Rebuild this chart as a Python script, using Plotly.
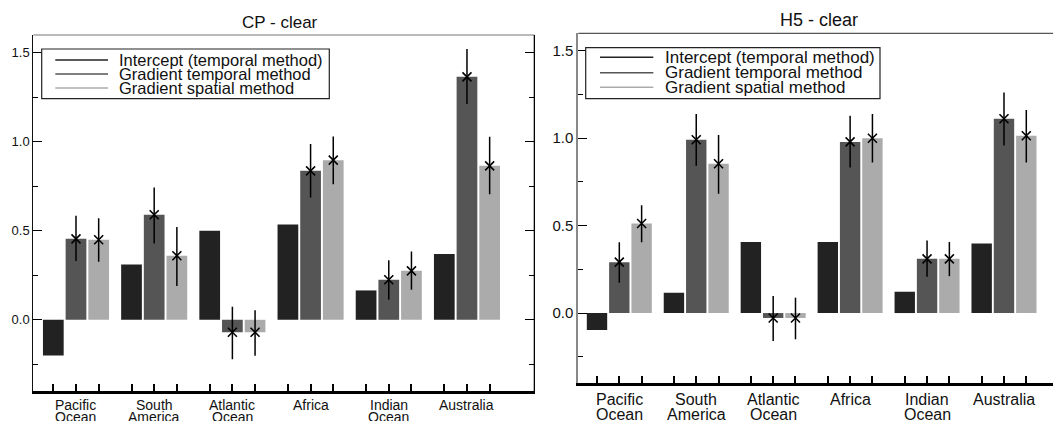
import plotly.graph_objects as go

# The page has an 8px body margin: the figure is drawn at (8, 8) of the window,
# so every reference pixel position is shifted by that margin.
WIN_W, WIN_H = 1061, 421
OFF = 8
W, H = WIN_W - OFF, WIN_H - OFF

# ---------------- data ----------------
categories = ["Pacific Ocean", "South America", "Atlantic Ocean", "Africa", "Indian Ocean", "Australia"]
series_names = ["Intercept (temporal method)", "Gradient temporal method", "Gradient spatial method"]
series_colors = ["#222222", "#555555", "#ababab"]
y_tick_vals = [0.0, 0.5, 1.0, 1.5]
y_tick_text = ["0.0", "0.5", "1.0", "1.5"]
y_minor_vals = [-0.25, 0.25, 0.75, 1.25]

# CP - clear
cp_intercept = [-0.20, 0.31, 0.50, 0.535, 0.165, 0.37]
cp_temporal = [0.455, 0.59, -0.07, 0.837, 0.225, 1.365]
cp_spatial = [0.45, 0.36, -0.07, 0.897, 0.275, 0.865]
cp_temporal_hi = [0.584, 0.743, 0.073, 0.987, 0.335, 1.521]
cp_temporal_lo = [0.331, 0.429, -0.221, 0.687, 0.112, 1.212]
cp_spatial_hi = [0.571, 0.522, 0.054, 1.030, 0.384, 1.028]
cp_spatial_lo = [0.326, 0.190, -0.202, 0.762, 0.169, 0.706]

# H5 - clear
h5_intercept = [-0.097, 0.116, 0.407, 0.407, 0.122, 0.398]
h5_temporal = [0.291, 0.991, -0.028, 0.979, 0.310, 1.111]
h5_spatial = [0.512, 0.854, -0.028, 1.000, 0.310, 1.014]
h5_temporal_hi = [0.405, 1.139, 0.097, 1.128, 0.415, 1.261]
h5_temporal_lo = [0.173, 0.843, -0.160, 0.833, 0.208, 0.958]
h5_spatial_hi = [0.616, 1.019, 0.088, 1.139, 0.407, 1.162]
h5_spatial_lo = [0.405, 0.683, -0.150, 0.861, 0.211, 0.861]

# ---------------- layout helpers ----------------
SLOT = 0.29
BAR_W = 0.265
FONT = "Liberation Sans, Arial, Helvetica, sans-serif"


def px_x(p):
    return (p - OFF) / W


def px_y(p):
    return 1 - (p - OFF) / H


panels = [
    dict(title="CP - clear", title_size=17, title_xy=(280, 22),
         dom=(33.3, 534.3, 35, 391), xrange=[-0.546, 5.861],
         intercept=cp_intercept, temporal=cp_temporal, spatial=cp_spatial,
         t_hi=cp_temporal_hi, t_lo=cp_temporal_lo, s_hi=cp_spatial_hi, s_lo=cp_spatial_lo,
         ytick_size=13, xlab_size=14, xlab_y=(404.5, 416.5),
         leftline="#111111", leftwidth=1, topline="#777777",
         legend_box=(41.7, 49, 329.3, 98.7), legend_line=(55.3, 108), legend_rows=(60, 74, 88),
         legend_text_x=117, legend_size=16.5),
    dict(title="H5 - clear", title_size=18, title_xy=(819, 20),
         dom=(578.3, 1061, 33.3, 383), xrange=[-0.533, 5.741],
         intercept=h5_intercept, temporal=h5_temporal, spatial=h5_spatial,
         t_hi=h5_temporal_hi, t_lo=h5_temporal_lo, s_hi=h5_spatial_hi, s_lo=h5_spatial_lo,
         ytick_size=15, xlab_size=16, xlab_y=(399.5, 414.5),
         leftline="#888888", leftwidth=2, topline="#555555",
         legend_box=(585.7, 47.7, 880, 98.7), legend_line=(600, 653.3), legend_rows=(57.3, 72.7, 87.3),
         legend_text_x=663.3, legend_size=17),
]

fig = go.Figure()
shapes = []
annotations = []
layout_axes = {}

for pi, p in enumerate(panels):
    n = "" if pi == 0 else str(pi + 1)
    xa, ya = "x" + n, "y" + n
    idx = list(range(len(categories)))
    values = [p["intercept"], p["temporal"], p["spatial"]]
    for k in range(3):
        xs = [i + (k - 1) * SLOT for i in idx]
        fig.add_trace(go.Bar(x=xs, y=values[k], width=BAR_W, marker=dict(color=series_colors[k], line=dict(width=0)),
                             name=series_names[k], showlegend=False, xaxis=xa, yaxis=ya))
    for k, hi, lo in [(1, p["t_hi"], p["t_lo"]), (2, p["s_hi"], p["s_lo"])]:
        xs = [i + (k - 1) * SLOT for i in idx]
        v = values[k]
        fig.add_trace(go.Scatter(
            x=xs, y=v, mode="markers", showlegend=False, xaxis=xa, yaxis=ya,
            marker=dict(symbol="x-thin", size=9, line=dict(width=1.6, color="black"), color="black"),
            error_y=dict(type="data", symmetric=False,
                         array=[h - a for h, a in zip(hi, v)],
                         arrayminus=[a - l for a, l in zip(v, lo)],
                         width=0, thickness=1.5, color="black")))

    x0, x1, y0, y1 = p["dom"]
    # axis range follows the domain so the data scale stays the same when the domain is clipped
    d0, d1 = max(0.0, px_x(x0)), min(1.0, px_x(x1))
    r0, r1 = p["xrange"]
    r1 = r0 + (r1 - r0) * (d1 - px_x(x0)) / (px_x(x1) - px_x(x0))
    tickpos = [i + (k - 1) * SLOT for i in idx for k in range(3)]
    layout_axes["xaxis" + n] = dict(
        domain=[d0, d1], range=[r0, r1], anchor=ya,
        tickmode="array", tickvals=tickpos, showticklabels=False,
        ticks="inside", ticklen=7, tickwidth=1.5, tickcolor="black",
        showline=True, linecolor="black", linewidth=3, showgrid=False, zeroline=False)
    layout_axes["yaxis" + n] = dict(
        domain=[px_y(y1), px_y(y0)], range=[-0.4, 1.6], anchor=xa,
        tickmode="array", tickvals=y_tick_vals, ticktext=y_tick_text,
        ticks="inside", ticklen=9, tickwidth=1, tickcolor="black",
        minor=dict(tickvals=y_minor_vals, ticks="inside", ticklen=5, tickwidth=1, tickcolor="black"),
        showline=True, linecolor=p["leftline"], linewidth=p["leftwidth"],
        mirror="ticks" if pi == 0 else False,
        showgrid=False, zeroline=False,
        tickfont=dict(family=FONT, size=p["ytick_size"], color="#111111"))

    # top frame line
    shapes.append(dict(type="line", xref=xa + " domain", yref=ya + " domain", x0=0, x1=1, y0=1, y1=1,
                       line=dict(color=p["topline"], width=1.2)))
    if pi == 0:
        shapes.append(dict(type="line", xref=xa + " domain", yref=ya + " domain", x0=1, x1=1, y0=0, y1=1,
                           line=dict(color="black", width=1.2)))

    # title
    annotations.append(dict(text=p["title"], x=px_x(p["title_xy"][0]), y=px_y(p["title_xy"][1]),
                            xref="paper", yref="paper", xanchor="center", yanchor="middle",
                            showarrow=False, font=dict(family=FONT, size=p["title_size"], color="#111111")))

    # category labels (two tightly spaced lines)
    for i, cat in enumerate(categories):
        parts = cat.split(" ")
        for li, word in enumerate(parts):
            annotations.append(dict(text=word, x=i, xref=xa, y=px_y(p["xlab_y"][li]), yref="paper",
                                    xanchor="center", yanchor="middle", showarrow=False,
                                    font=dict(family=FONT, size=p["xlab_size"], color="#111111")))

    # legend (manual, tight rows like the reference)
    bx0, by0, bx1, by1 = p["legend_box"]
    shapes.append(dict(type="rect", xref="paper", yref="paper", x0=px_x(bx0), x1=px_x(bx1),
                       y0=px_y(by1), y1=px_y(by0), line=dict(color="#222222", width=1.2),
                       fillcolor="white", layer="above"))
    lx0, lx1 = p["legend_line"]
    for k in range(3):
        ry = p["legend_rows"][k]
        shapes.append(dict(type="line", xref="paper", yref="paper", x0=px_x(lx0), x1=px_x(lx1),
                           y0=px_y(ry), y1=px_y(ry), line=dict(color=series_colors[k], width=1.6),
                           layer="above"))
        annotations.append(dict(text=series_names[k], x=px_x(p["legend_text_x"]), y=px_y(ry),
                                xref="paper", yref="paper", xanchor="left", yanchor="middle",
                                showarrow=False, font=dict(family=FONT, size=p["legend_size"], color="#111111")))

fig.update_layout(
    width=W, height=H, margin=dict(l=0, r=0, t=0, b=0),
    paper_bgcolor="white", plot_bgcolor="white",
    barmode="overlay", showlegend=False,
    shapes=shapes, annotations=annotations,
    font=dict(family=FONT, color="#111111"),
    **layout_axes)

fig.write_html("out.html")
